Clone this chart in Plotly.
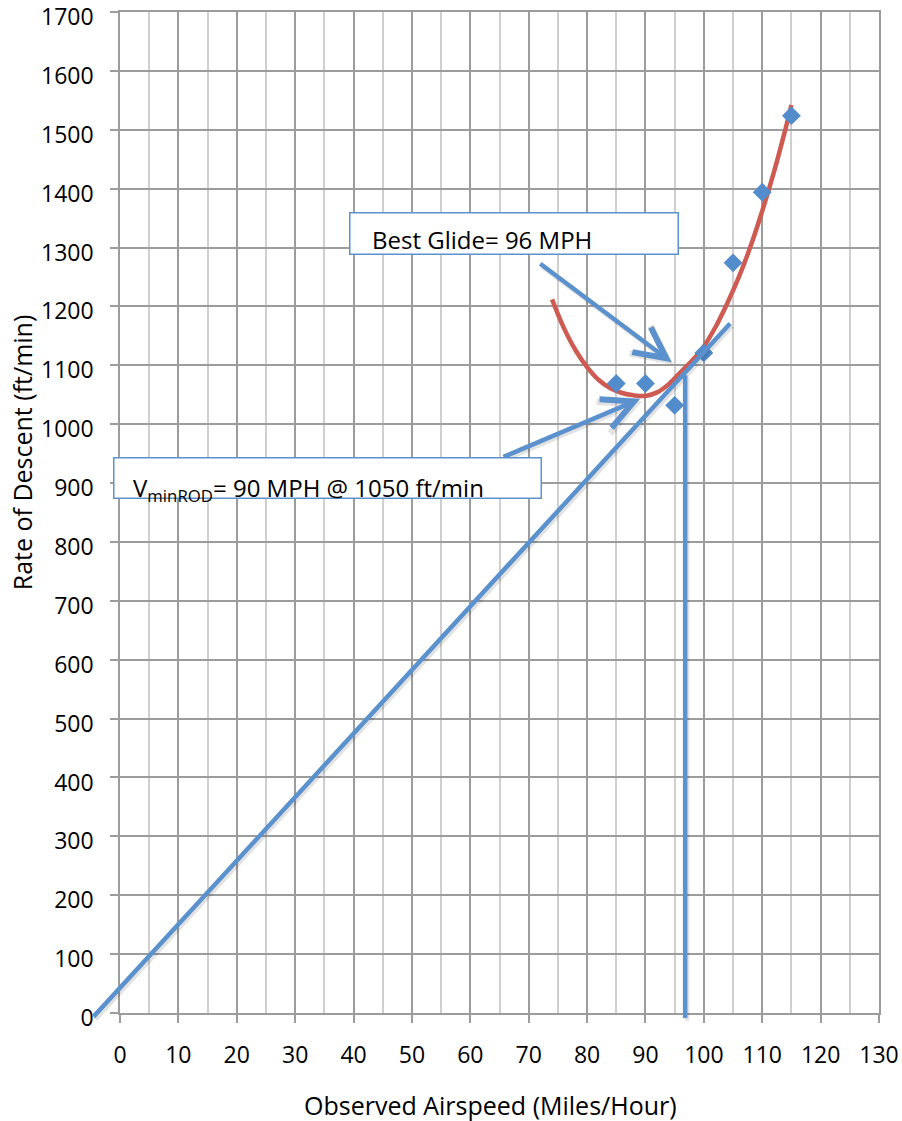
import plotly.graph_objects as go

# Measured glide test points
airspeed = [85, 90, 95, 100, 105, 110, 115]
descent = [1069, 1069, 1032, 1121, 1274, 1394, 1524]

# Fitted descent-rate curve (trend line through the test points)
trend_x = [74, 76, 78, 80, 82, 84, 86, 88, 90, 92, 94, 96, 98, 100, 102, 104, 106, 108, 110, 112, 114, 115]
trend_y = [1212, 1164, 1126, 1097, 1075, 1061, 1053, 1049, 1048, 1054, 1068, 1088, 1108, 1132, 1165, 1205, 1250, 1302, 1362, 1428, 1502, 1542]

# Tangent from the origin and the best-glide drop line (airspeed, rate)
tangent_start = (-4.6, -7)
tangent_end = (104.5, 1171)
drop_top = (96.8, 1083)
drop_bottom = (96.8, -9.5)

# Callout arrows: (tail, head)
glide_arrow = ((71.9, 1273), (94.5, 1105))
minrod_arrow = ((65.6, 944), (89.1, 1043))

x_ticks = list(range(0, 131, 10))
y_ticks = list(range(0, 1701, 100))

FONT = "Open Sans"
FS = 24
TICK_FS = 23
TITLE_FS = 25
BLUE = "#5B92CE"
RED = "#CD5B52"
MARK = "#528CCB"
GRID = "#9C9C9C"
MINOR = "#CFCFCF"

fig = go.Figure()

fig.add_trace(go.Scatter(
    x=trend_x, y=trend_y, mode="lines", line=dict(color=RED, width=4.5, shape="spline"),
    hoverinfo="skip", showlegend=False))
fig.add_trace(go.Scatter(
    x=airspeed, y=descent, mode="markers",
    marker=dict(symbol="diamond", size=14.5, color=MARK, line=dict(width=0)),
    showlegend=False))


def line_ann(tail, head, head_style=0, shadow=False):
    return dict(
        x=head[0] + (0.3 if shadow else 0), y=head[1] - (4 if shadow else 0),
        ax=tail[0] + (0.3 if shadow else 0), ay=tail[1] - (4 if shadow else 0),
        xref="x", yref="y", axref="x", ayref="y",
        text="", showarrow=True, arrowhead=head_style, arrowsize=1.35,
        arrowwidth=5 if shadow else 4.5,
        arrowcolor="rgba(0,0,0,0.11)" if shadow else BLUE,
        standoff=0, startstandoff=0, borderpad=0, font=dict(size=1))


segments = [(tangent_start, tangent_end, 0), (drop_bottom, drop_top, 0),
            (glide_arrow[0], glide_arrow[1], 5), (minrod_arrow[0], minrod_arrow[1], 5)]
annotations = [line_ann(t, h, s, shadow=True) for t, h, s in segments]
annotations += [line_ann(t, h, s) for t, h, s in segments]

# Callout boxes (right/top anchored) and their texts
annotations.append(dict(
    x=95.75, y=1360, xref="x", yref="y", xanchor="right", yanchor="top",
    text=" ", showarrow=False, width=327, height=40, bgcolor="white",
    bordercolor=BLUE, borderwidth=1.5, borderpad=0))
annotations.append(dict(
    x=42.8, y=1313, xref="x", yref="y", xanchor="left", yanchor="middle",
    text="Best Glide= 96 MPH", showarrow=False,
    font=dict(family=FONT, size=FS, color="black")))
annotations.append(dict(
    x=72.3, y=944, xref="x", yref="y", xanchor="right", yanchor="top",
    text=" ", showarrow=False, width=426, height=39, bgcolor="white",
    bordercolor=BLUE, borderwidth=1.5, borderpad=0))
annotations.append(dict(
    x=1.9, y=890, xref="x", yref="y", xanchor="left", yanchor="middle",
    text="V<sub>minROD</sub>= 90 MPH @ 1050 ft/min", showarrow=False,
    font=dict(family=FONT, size=FS, color="black")))

# Axis titles
annotations.append(dict(
    x=0.488, y=-0.092, xref="paper", yref="paper", xanchor="center", yanchor="middle",
    text="Observed Airspeed (Miles/Hour)", showarrow=False,
    font=dict(family=FONT, size=TITLE_FS, color="black")))
annotations.append(dict(
    x=-0.128, y=0.56, xref="paper", yref="paper", xanchor="center", yanchor="middle",
    text="Rate of Descent (ft/min)", showarrow=False, textangle=-90,
    font=dict(family=FONT, size=TITLE_FS, color="black")))

fig.update_layout(
    width=902, height=1121,
    margin=dict(l=120, r=23, t=12, b=108, autoexpand=False),
    paper_bgcolor="white", plot_bgcolor="white",
    font=dict(family=FONT, size=FS, color="black"),
    annotations=annotations,
    showlegend=False,
)
fig.update_xaxes(
    range=[0, 130], tickmode="array", tickvals=x_ticks, ticktext=[str(v) for v in x_ticks],
    showgrid=True, gridcolor=GRID, gridwidth=1.5,
    minor=dict(dtick=5, tick0=0, showgrid=True, gridcolor=MINOR, gridwidth=1.5, ticks=""),
    ticks="outside", ticklen=8, tickwidth=1.5, tickcolor=GRID,
    showline=True, linecolor=GRID, linewidth=1.5, mirror=True,
    zeroline=False, ticklabelstandoff=13, automargin=False, ticklabeloverflow="allow",
    tickfont=dict(family=FONT, size=TICK_FS, color="black"),
)
fig.update_yaxes(
    range=[0, 1700], tickmode="array", tickvals=y_ticks, ticktext=[str(v) for v in y_ticks],
    showgrid=True, gridcolor=GRID, gridwidth=1.5,
    ticks="outside", ticklen=8, tickwidth=1.5, tickcolor=GRID,
    showline=True, linecolor=GRID, linewidth=1.5, mirror=True,
    zeroline=False, ticklabelstandoff=12, ticklabelshift=5,
    automargin=False, ticklabeloverflow="allow",
    tickfont=dict(family=FONT, size=TICK_FS, color="black"),
)

fig.write_html("out.html")
